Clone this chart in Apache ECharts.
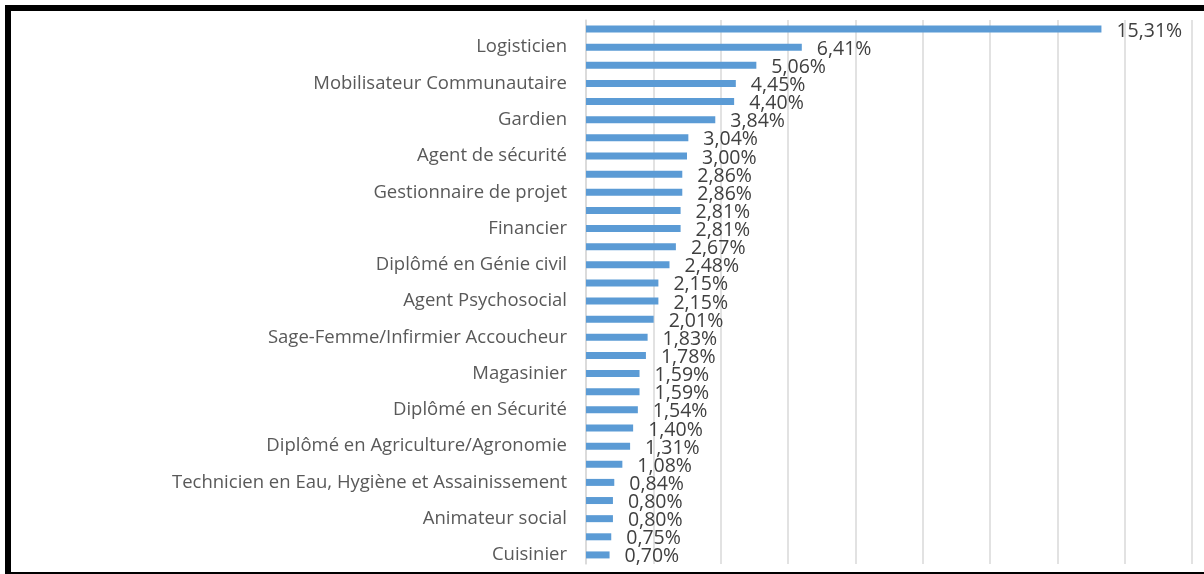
<!DOCTYPE html>
<html>
<head>
<meta charset="utf-8">
<script src="https://cdn.jsdelivr.net/npm/echarts@6/dist/echarts.min.js"></script>
<style>
html,body{margin:0;padding:0;background:#fff;}
#chart{width:1204px;height:574px;}
</style>
</head>
<body>
<div id="chart"></div>
<script>
// Categories (top to bottom); only every other label is visible in the reference
var categories = [
  "", "Logisticien", "", "Mobilisateur Communautaire", "", "Gardien",
  "", "Agent de sécurité", "", "Gestionnaire de projet", "", "Financier",
  "", "Diplômé en Génie civil", "", "Agent Psychosocial", "", "Sage-Femme/Infirmier Accoucheur",
  "", "Magasinier", "", "Diplômé en Sécurité", "", "Diplômé en Agriculture/Agronomie",
  "", "Technicien en Eau, Hygiène et Assainissement", "", "Animateur social", "", "Cuisinier"
];
// Percent values
var values = [
  15.31, 6.41, 5.06, 4.45, 4.40, 3.84,
  3.04, 3.00, 2.86, 2.86, 2.81, 2.81,
  2.67, 2.48, 2.15, 2.15, 2.01, 1.83,
  1.78, 1.59, 1.59, 1.54, 1.40, 1.31,
  1.08, 0.84, 0.80, 0.80, 0.75, 0.70
];
var xTicks = {min: 0, max: 18, interval: 2};

var chart = echarts.init(document.getElementById('chart'), null, {renderer: 'canvas'});
chart.setOption({
  animation: false,
  backgroundColor: '#ffffff',
  grid: {left: 586, right: 12, top: 20, bottom: 10, containLabel: false},
  xAxis: {
    type: 'value',
    min: xTicks.min, max: xTicks.max, interval: xTicks.interval,
    axisLabel: {show: false},
    axisLine: {show: false},
    axisTick: {show: false},
    splitLine: {show: true, lineStyle: {color: '#d9d9d9', width: 1.5}}
  },
  yAxis: {
    type: 'category',
    inverse: true,
    data: categories,
    axisTick: {show: false},
    axisLine: {show: true, lineStyle: {color: '#d9d9d9', width: 1.5}},
    axisLabel: {
      interval: 0,
      margin: 19,
      color: '#595959',
      fontFamily: 'Open Sans',
      fontSize: 18.5
    }
  },
  series: [{
    type: 'bar',
    data: values,
    barWidth: 7,
    itemStyle: {color: '#5B9BD5'},
    label: {
      show: true,
      position: 'right',
      distance: 15,
      offset: [0, 2],
      color: '#404040',
      fontFamily: 'Open Sans',
      fontSize: 19.5,
      formatter: function (p) { return p.value.toFixed(2).replace('.', ',') + '%'; }
    }
  }],
  graphic: [
    {type: 'rect', shape: {x: 5, y: 5, width: 1199, height: 6}, style: {fill: '#000'}},
    {type: 'rect', shape: {x: 5, y: 5, width: 6, height: 569}, style: {fill: '#000'}},
    {type: 'rect', shape: {x: 5, y: 572, width: 1199, height: 2}, style: {fill: '#000'}}
  ]
});
</script>
</body>
</html>
